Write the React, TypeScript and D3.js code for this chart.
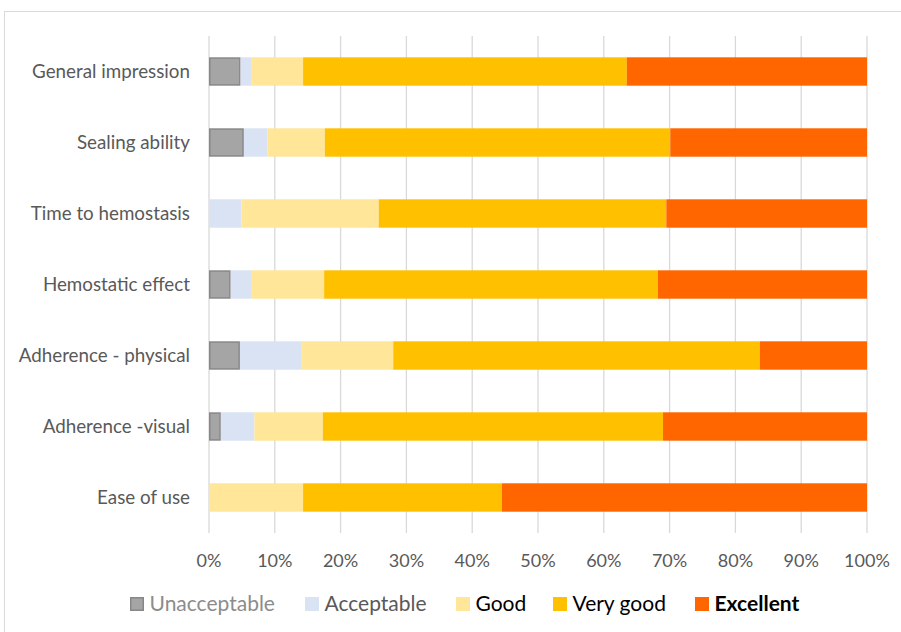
import React from "react";
import * as d3 from "d3";

const categories = [
  "General impression",
  "Sealing ability",
  "Time to hemostasis",
  "Hemostatic effect",
  "Adherence - physical",
  "Adherence -visual",
  "Ease of use",
];
const seriesNames = ["Unacceptable", "Acceptable", "Good", "Very good", "Excellent"];
const unacceptable = [4.8, 5.3, 0, 3.3, 4.7, 1.8, 0];
const acceptable = [1.6, 3.6, 4.9, 3.1, 9.3, 5.1, 0];
const good = [7.9, 8.7, 20.9, 11.1, 14.0, 10.4, 14.3];
const veryGood = [49.2, 52.5, 43.7, 50.7, 55.7, 51.7, 30.2];
const excellent = [36.5, 29.9, 30.5, 31.8, 16.3, 31.0, 55.5];
const tickValues = [0, 10, 20, 30, 40, 50, 60, 70, 80, 90, 100];

const colors = ["#A5A5A5", "#DAE3F3", "#FFE699", "#FFC000", "#FF6600"];
const legendTextColors = ["#8C8C8C", "#595959", "#000000", "#000000", "#000000"];
const legendWeights = ["normal", "normal", "normal", "normal", "bold"];
const legendX = [130, 305, 456, 553, 695];

const FONT = "Lato, 'Open Sans', sans-serif";

export default function App() {
  const W = 901, H = 632;
  const x = d3.scaleLinear().domain([0, 100]).range([209, 867]);
  const y = d3.scaleBand().domain(categories).range([36, 533]).paddingInner(0.6).paddingOuter(0.3);
  const seriesData = [unacceptable, acceptable, good, veryGood, excellent];
  const rows = categories.map((c, i) => {
    const r: any = { cat: c };
    seriesNames.forEach((s, k) => (r[s] = seriesData[k][i]));
    return r;
  });
  const stacked = d3.stack().keys(seriesNames)(rows);

  return (
    <div style={{ position: "absolute", left: 0, top: 0 }}>
      <svg width={W} height={H} style={{ display: "block", background: "#fff" }}>
        <rect x={4.5} y={11.5} width={1000} height={1000} fill="#fff" stroke="#D9D9D9" />
        {tickValues.map((t) => (
          <line key={t} x1={x(t)} x2={x(t)} y1={36} y2={533} stroke="#D9D9D9" strokeWidth={1.3} />
        ))}
        {stacked.map((layer, k) => (
          <g key={layer.key}>
            {layer.map((d, i) => {
              const w = x(d[1]) - x(d[0]);
              if (w <= 0) return null;
              const isU = k === 0;
              return (
                <rect
                  key={i}
                  x={x(d[0]) + (isU ? 0.75 : 0)}
                  y={(y(categories[i]) as number) + (isU ? 0.75 : 0)}
                  width={w - (isU ? 1.5 : 0)}
                  height={y.bandwidth() - (isU ? 1.5 : 0)}
                  fill={colors[k]}
                  stroke={isU ? "#878787" : "none"}
                  strokeWidth={isU ? 1.5 : 0}
                />
              );
            })}
          </g>
        ))}
        {categories.map((c) => (
          <text
            key={c}
            x={190}
            y={(y(c) as number) + y.bandwidth() / 2}
            dy="0.35em"
            textAnchor="end"
            fontFamily={FONT}
            fontSize={18.8}
            fill="#595959"
          >
            {c}
          </text>
        ))}
        {tickValues.map((t) => (
          <text
            key={t}
            x={x(t)}
            y={561}
            dy="0.35em"
            textAnchor="middle"
            fontFamily={FONT}
            fontSize={18}
            fill="#595959"
          >
            {t}%
          </text>
        ))}
        {seriesNames.map((s, k) => (
          <g key={s} transform={`translate(${legendX[k]},604)`}>
            <rect
              x={k === 0 ? 0.75 : 0}
              y={-7 + (k === 0 ? 0.75 : 0)}
              width={k === 0 ? 12.5 : 14}
              height={k === 0 ? 12.5 : 14}
              fill={colors[k]}
              stroke={k === 0 ? "#878787" : "none"}
              strokeWidth={k === 0 ? 1.5 : 0}
            />
            <text
              x={19.5}
              y={0}
              dy="0.35em"
              fontFamily={FONT}
              fontSize={21}
              fontWeight={legendWeights[k]}
              fill={legendTextColors[k]}
            >
              {s}
            </text>
          </g>
        ))}
      </svg>
    </div>
  );
}
